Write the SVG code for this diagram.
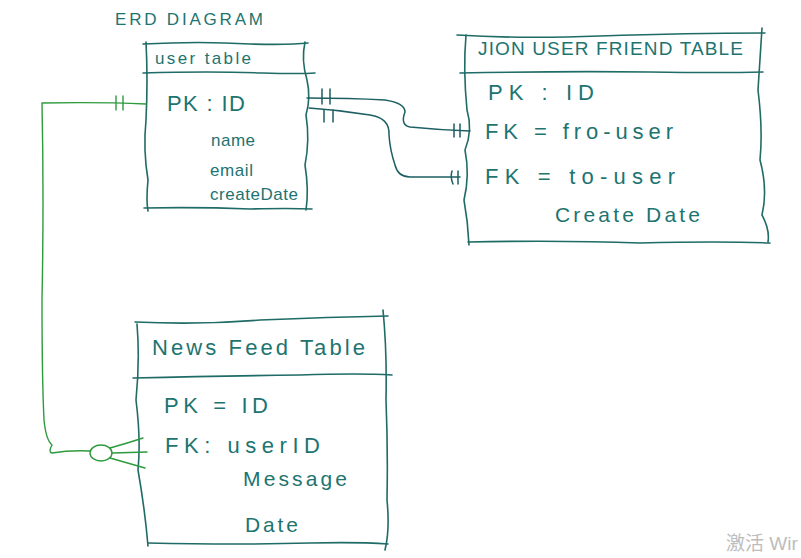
<svg xmlns="http://www.w3.org/2000/svg" width="801" height="558" viewBox="0 0 801 558">
<style>
.box{fill:none;stroke:#1f6b66;stroke-width:1.6;stroke-linecap:round;stroke-linejoin:round}
.con{fill:none;stroke:#1d5f63;stroke-width:1.5;stroke-linecap:round;stroke-linejoin:round}
.grn{fill:none;stroke:#2e9a3e;stroke-width:1.4;stroke-linecap:round;stroke-linejoin:round}
.t{font-family:"Liberation Sans","DejaVu Sans",sans-serif;fill:#1d7470}
.wm{font-family:"Liberation Sans","Noto Sans CJK SC",sans-serif;fill:#bdbdbd;font-size:19px}
</style>
<rect width="801" height="558" fill="#ffffff"/>
<text class="t" x="115" y="25" font-size="17" textLength="148" lengthAdjust="spacing">ERD  DIAGRAM</text>

<g id="user-table">
<path class="box" d="M143 44 Q200 41 250 44 Q290 45 308 43"/>
<path class="box" d="M143 73 Q210 71 262 73 Q300 74 315 73"/>
<path class="box" d="M144 208 Q200 207 250 209 Q290 208 312 209"/>
<path class="box" d="M146 42 Q148 80 146 120 Q143 150 148 180 Q146 200 148 211"/>
<path class="box" d="M305 42 Q301 60 307 80 Q311 98 306 115 Q310 140 305 165 Q309 190 306 210"/>
<text class="t" x="155" y="64" font-size="17" textLength="96" lengthAdjust="spacing">user table</text>
<text class="t" x="167" y="111" font-size="22" textLength="78" lengthAdjust="spacing">PK : ID</text>
<text class="t" x="211" y="146" font-size="17" textLength="44" lengthAdjust="spacing">name</text>
<text class="t" x="210" y="176" font-size="17" textLength="43" lengthAdjust="spacing">email</text>
<text class="t" x="210" y="200" font-size="17" textLength="88" lengthAdjust="spacing">createDate</text>
</g>

<g id="join-table">
<path class="box" d="M457 35 Q520 39 600 36 Q690 33 765 33"/>
<path class="box" d="M460 73 Q560 71 650 72 Q720 73 763 72"/>
<path class="box" d="M468 242 Q560 240 640 243 Q720 241 770 243"/>
<path class="box" d="M466 35 Q463 70 467 110 Q473 130 465 150 Q470 175 464 200 Q468 222 469 245"/>
<path class="box" d="M762 28 Q760 60 758 90 Q763 130 760 160 Q768 190 762 215 Q770 230 768 242"/>
<text class="t" x="478" y="55" font-size="19" textLength="265" lengthAdjust="spacing">JION USER FRIEND TABLE</text>
<text class="t" x="488" y="100" font-size="22" textLength="106" lengthAdjust="spacing">PK :  ID</text>
<text class="t" x="485" y="139" font-size="22" textLength="188" lengthAdjust="spacing">FK = fro-user</text>
<text class="t" x="485" y="184" font-size="22" textLength="190" lengthAdjust="spacing">FK =  to-user</text>
<text class="t" x="555" y="222" font-size="21" textLength="145" lengthAdjust="spacing">Create Date</text>
</g>

<g id="news-feed-table">
<path class="box" d="M135 322 Q200 325 260 320 Q330 317 388 316"/>
<path class="box" d="M133 378 Q220 376 300 375 Q360 373 392 375"/>
<path class="box" d="M148 543 Q240 545 310 543 Q360 542 388 544"/>
<path class="box" d="M137 324 Q140 360 136 400 Q141 440 138 470 Q145 510 148 546"/>
<path class="box" d="M383 310 Q387 350 386 400 Q388 450 387 500 Q390 530 385 550"/>
<text class="t" x="152" y="355" font-size="22" textLength="213" lengthAdjust="spacing">News Feed Table</text>
<text class="t" x="164" y="413" font-size="22" textLength="104" lengthAdjust="spacing">PK =  ID</text>
<text class="t" x="165" y="453" font-size="22" textLength="155" lengthAdjust="spacing">FK:  userID</text>
<text class="t" x="243" y="486" font-size="21" textLength="104" lengthAdjust="spacing">Message</text>
<text class="t" x="245" y="532" font-size="21" textLength="53" lengthAdjust="spacing">Date</text>
</g>

<g id="connectors">
<path class="con" d="M307 98 Q350 98 385 100 Q405 103 405 112 Q400 125 410 127 Q440 130 470 131"/>
<path class="con" d="M322 89 L322 104 M330 89 L330 104"/>
<path class="con" d="M454 124 L454 137 M460 124 L460 137"/>
<path class="con" d="M309 108 Q340 110 370 115 Q390 118 389 135 Q390 150 395 165 Q398 177 410 177 L460 177"/>
<path class="con" d="M324 110 L324 122 M333 110 L333 122"/>
<path class="con" d="M452 171 Q450 177 453 184 M458 171 L458 184"/>
<path class="grn" d="M146 104 Q100 102 42 103 Q44 200 42 300 Q42 380 44 420 Q46 440 52 445 Q48 452 52 453 Q70 450 90 451"/>
<path class="grn" d="M116 96 L116 110 M123 96 L123 110"/>
<ellipse class="grn" cx="101" cy="453" rx="11" ry="8"/>
<path class="grn" d="M110 448 Q128 443 143 438 M112 453 L147 452 M110 458 L145 468"/>
</g>
<text class="wm" x="726" y="550">激活 Wir</text>
</svg>
